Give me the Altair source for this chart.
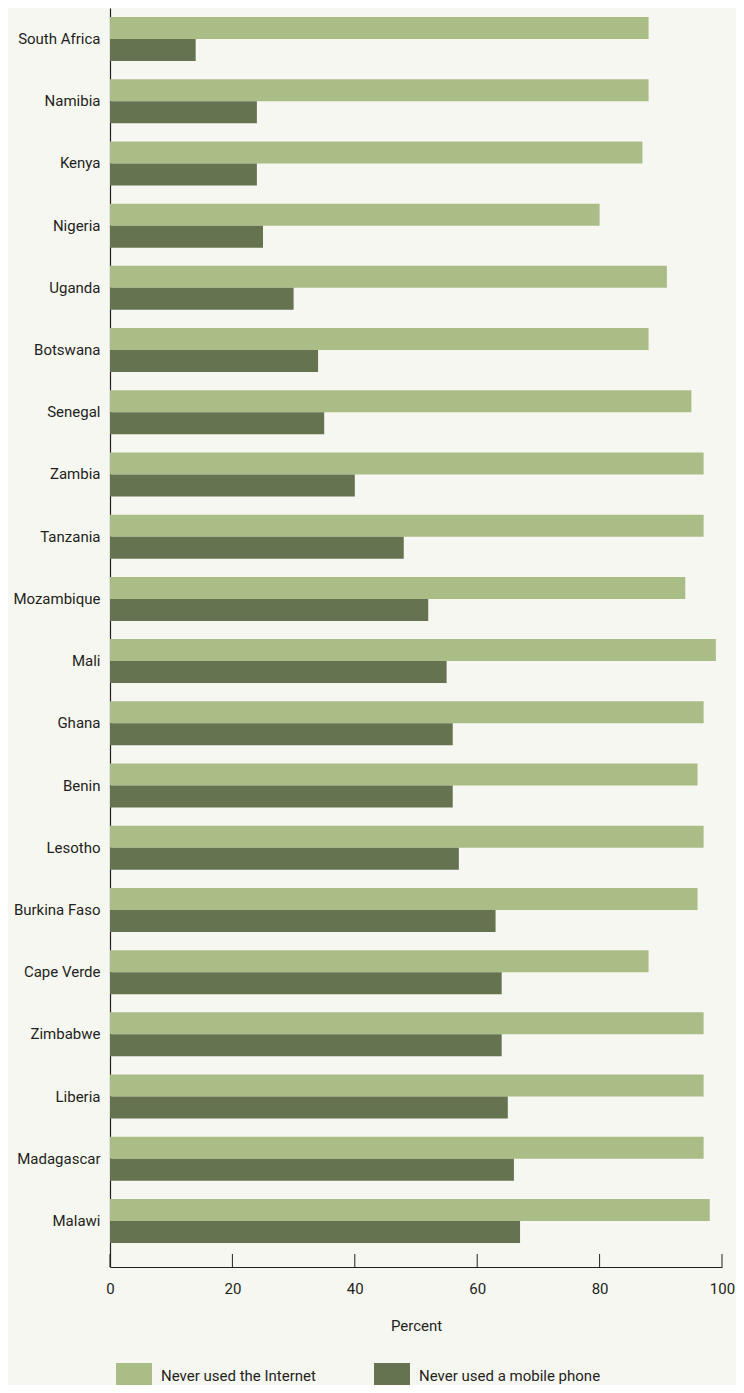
import altair as alt
import pandas as pd

countries = ["South Africa", "Namibia", "Kenya", "Nigeria", "Uganda", "Botswana",
             "Senegal", "Zambia", "Tanzania", "Mozambique", "Mali", "Ghana", "Benin",
             "Lesotho", "Burkina Faso", "Cape Verde", "Zimbabwe", "Liberia",
             "Madagascar", "Malawi"]
never_internet = [88, 88, 87, 80, 91, 88, 95, 97, 97, 94, 99, 97, 96, 97, 96, 88, 97, 97, 97, 98]
never_mobile = [14, 24, 24, 25, 30, 34, 35, 40, 48, 52, 55, 56, 56, 57, 63, 64, 64, 65, 66, 67]
series = ["Never used the Internet", "Never used a mobile phone"]
x_ticks = [0, 20, 40, 60, 80, 100]

FONT = "Roboto"
FS = 15
LIGHT = "#abbd86"
DARK = "#657350"
BG = "#f7f7f2"
INK = "#231f20"

rows = []
for c, a, b in zip(countries, never_internet, never_mobile):
    rows.append({"country": c, "series": series[0], "value": a})
    rows.append({"country": c, "series": series[1], "value": b})
df = pd.DataFrame(rows)
ticks_df = pd.DataFrame({"t": x_ticks})

W, H = 612, 1259
xscale = alt.Scale(domain=[0, 100], nice=False)

bars = alt.Chart(df).mark_bar().encode(
    x=alt.X("value:Q", scale=xscale,
            axis=alt.Axis(values=x_ticks, ticks=False, grid=False, domainColor=INK,
                          domainWidth=1.2, labelFont=FONT, labelFontSize=FS,
                          labelColor=INK, labelPadding=14, labelFlush=False,
                          title="Percent",
                          titleFont=FONT, titleFontSize=FS, titleFontWeight="normal",
                          titleColor=INK, titleY=58, titleBaseline="middle")),
    y=alt.Y("country:N", sort=countries,
            scale=alt.Scale(paddingInner=0.2927, paddingOuter=0.2654, align=0.273, round=False),
            axis=alt.Axis(title=None, ticks=False, grid=False, domainColor=INK,
                          domainWidth=1.2, labelFont=FONT, labelFontSize=FS,
                          labelColor=INK, labelPadding=10, labelLimit=200)),
    yOffset=alt.YOffset("series:N", sort=series,
                        scale=alt.Scale(paddingInner=0, paddingOuter=0)),
    color=alt.Color("series:N",
                    scale=alt.Scale(domain=series, range=[LIGHT, DARK]),
                    legend=alt.Legend(title=None, orient="none", legendX=6, legendY=1355,
                                      direction="horizontal", columns=2,
                                      symbolType="square", symbolSize=1296,
                                      symbolStrokeWidth=0, symbolOpacity=1,
                                      labelFont=FONT, labelFontSize=FS, labelColor=INK,
                                      labelBaseline="alphabetic",
                                      labelOffset=9, labelLimit=400, columnPadding=58)),
)

tick_marks = alt.Chart(ticks_df).mark_rule(color=INK, strokeWidth=1).encode(
    x=alt.X("t:Q", scale=xscale),
    y=alt.value(H - 13),
    y2=alt.value(H),
)

chart = alt.layer(bars, tick_marks).properties(
    width=W, height=H,
    background=BG,
    padding={"left": 102, "top": 0, "right": 14, "bottom": 118},
    autosize=alt.AutoSizeParams(type="none"),
).configure_view(stroke=None)

chart.save("out.html", embed_options={"renderer": "svg", "actions": False})
